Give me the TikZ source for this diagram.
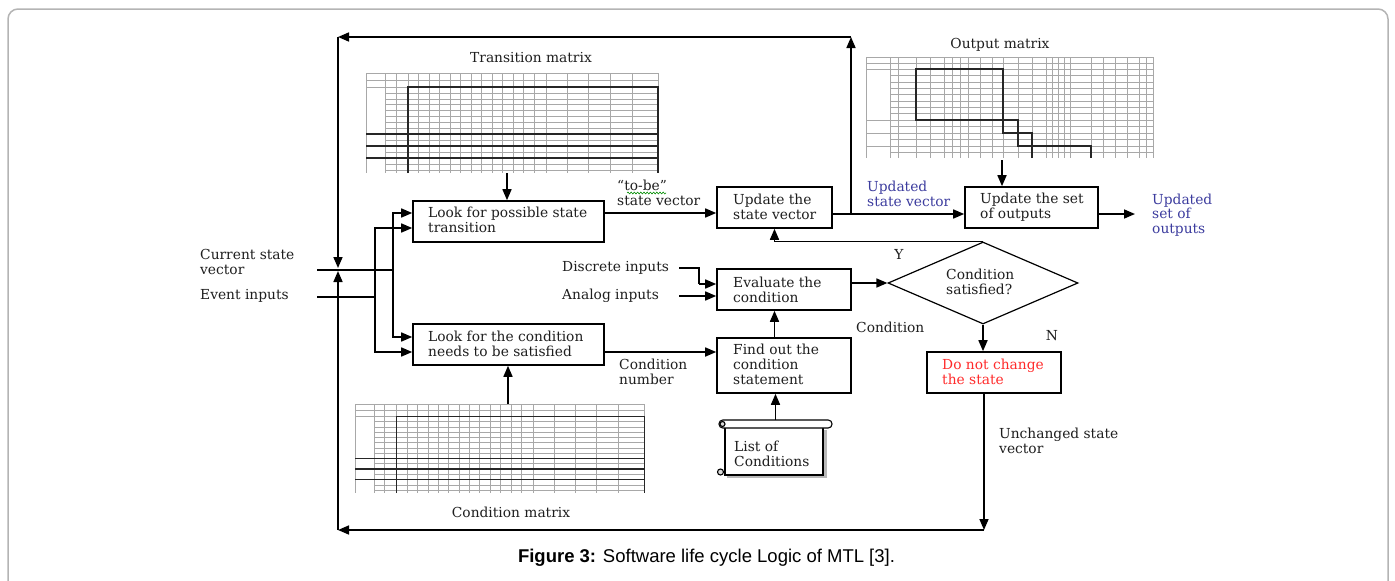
\documentclass[tikz,border=0pt]{standalone}
\usepackage{fontspec}
\setmainfont{DejaVu Serif}
\newfontfamily\capfont{Liberation Sans}
\usetikzlibrary{arrows.meta,shapes.geometric,calc,decorations.pathmorphing}
\definecolor{txtblue}{HTML}{3C3C9E}
\definecolor{txtred}{HTML}{FF2A2A}
\definecolor{txtdark}{HTML}{1E1E1E}
\definecolor{gridgray}{HTML}{A8A8A8}
\definecolor{framegray}{HTML}{B4B4B4}
\newcommand\boxfont{\fontsize{13.8}{14.8}\selectfont}
\newcommand\matgrid{%
  \foreach \xx in {0,19,30,42,52.5,63,73.5,84,94.5,105,115.5,126,136.5,147,157.5,168,180,201,222,244,266,292}
    \draw[gridline] (\xx,0) -- (\xx,100);
  \foreach \yy in {0,7,14,61,73,85}
    \draw[gridline] (0,\yy) -- (292,\yy);
  \foreach \yy in {19.9,25.75,31.6,37.5,43.4,49.25,55.1,67,79,91,97}
    \draw[gridline] (19,\yy) -- (292,\yy);
  \draw[thickline] (42,100) -- (42,14) -- (292,14) -- (292,100);
  \foreach \yy in {61,73,85}
    \draw[thickline] (0,\yy) -- (292,\yy);
}
\begin{document}
\begin{tikzpicture}[x=1pt,y=-1pt,
  gridline/.style={gridgray,line width=0.5pt},
  thickline/.style={black!85,line width=1.1pt},
  ln/.style={line width=1.6pt},
  arr/.style={line width=1.6pt,-{Triangle[length=11pt,width=9pt]}},
  box/.style={draw,line width=1.6pt,rectangle,inner sep=0pt},
  lbl/.style={inner sep=0pt,align=left,font=\boxfont,text=txtdark},
  ttl/.style={inner sep=0pt,font=\boxfont,text=txtdark}]
\useasboundingbox (0,0) rectangle (1395,581);
% outer frame
\draw[framegray,line width=1.5pt,rounded corners=10pt] (8,581) -- (8,9) -- (1388,9) -- (1388,581);

% ---------- tables ----------
\begin{scope}[shift={(366,73)}]
  \matgrid
\end{scope}
\begin{scope}[shift={(355,404)},xscale=0.99,yscale=0.89]
  \matgrid
\end{scope}
% output matrix
\foreach \xx in {866,890,898,916,930,944,952,960,968,980,992,1003,1018,1032,1046,1052,1058,1064,1070,1091,1103,1115,1127,1139,1146,1153}
  \draw[gridline] (\xx,57) -- (\xx,158);
\foreach \yy in {57,63,69,120,133,146}
  \draw[gridline] (866,\yy) -- (1153,\yy);
\foreach \yy in {75.4,81.75,88.1,94.5,100.9,107.25,113.6,126.5,139.5,152}
  \draw[gridline] (890,\yy) -- (1153,\yy);
\draw[thickline] (916,69) rectangle (1003,120);
\draw[thickline] (1003,120) rectangle (1018,133);
\draw[thickline] (1018,133) rectangle (1032,146);
\draw[thickline] (1032,158) -- (1032,146) -- (1091,146) -- (1091,158);

\node[ttl] (ttrans) at (531,58) {Transition matrix};
\node[ttl] (toutm) at (1000,45) {Output matrix};
\node[ttl] (tcondm) at (511,512) {Condition matrix};
\coordinate (ttabS) at (507,173);
\coordinate (otabS) at (1002,160);
\coordinate (ctabN) at (508,404);

% ---------- boxes ----------
\node[box,minimum width=191pt,minimum height=41pt] (b1) at (508.5,221.5) {};
\node[box,minimum width=191pt,minimum height=41pt] (b2) at (508.5,344.5) {};
\node[box,minimum width=115pt,minimum height=41pt] (bu) at (774.5,207.5) {};
\node[box,minimum width=133pt,minimum height=41pt] (bo) at (1031.5,207.5) {};
\node[box,minimum width=134pt,minimum height=41pt] (be) at (784,289.5) {};
\node[box,minimum width=134pt,minimum height=55pt] (bf) at (784,365.5) {};
\node[box,minimum width=134pt,minimum height=41pt] (bd) at (994,372.5) {};
\node[draw,diamond,line width=1.2pt,minimum width=190pt,minimum height=82pt,inner sep=0pt] (dia) at (983,283) {};

\node[lbl,anchor=west] (b1t) at (428,220) {Look for possible state\\transition};
\node[lbl,anchor=west] (b2t) at (428,344) {Look for the condition\\needs to be satisfied};
\node[lbl,anchor=west] (but) at (733,207) {Update the\\state vector};
\node[lbl,anchor=west] (bot) at (980,207) {Update the set\\of outputs};
\node[lbl,anchor=west] (bet) at (733,289.5) {Evaluate the\\condition};
\node[lbl,anchor=west] (bft) at (733,364.5) {Find out the\\condition\\statement};
\node[lbl,anchor=west,text=txtred] (bdt) at (942,371.5) {Do not change\\the state};
\node[lbl,anchor=west] (diat) at (946,281.5) {Condition\\satisfied?};

% scroll
\node[inner sep=0pt,minimum width=113pt,minimum height=55pt] (scroll) at (775.5,447.5) {};
\fill[gray!55] (823,430) rectangle (826.5,477.5);
\fill[gray!55] (727,475) rectangle (826.5,477.5);
\draw[line width=1.1pt,fill=white] (725,427) -- (725,475) -- (823,475) -- (823,427);
\draw[line width=1.1pt,fill=white,rounded corners=3.8pt] (719,420) rectangle (832,428);
\draw[line width=1.1pt,fill=gray!30] (722.5,424) circle (2.5pt);
\draw[line width=1.1pt,fill=gray!30] (720.5,472) circle (3pt);
\node[lbl,anchor=west] (scrollt) at (734,454) {List of\\Conditions};

% ---------- labels ----------
\node[lbl,anchor=west] (lcur) at (200,262) {Current state\\vector};
\node[lbl,anchor=west] (levt) at (200,296) {Event inputs};
\node[lbl,anchor=west] (ltobe) at (617,193) {“to-be”\\state vector};
\draw[green!55!black,line width=0.6pt,decorate,decoration={snake,amplitude=0.9pt,segment length=3.2pt}] (627,193) -- (666,193);
\node[lbl,anchor=west,text=txtblue] (lupsv) at (867,193.5) {Updated\\state vector};
\node[lbl,anchor=west,text=txtblue] (lupso) at (1152,215) {Updated\\set of\\outputs};
\node[lbl,anchor=west] (ldisc) at (562,268) {Discrete inputs};
\node[lbl,anchor=west] (lanal) at (562,296) {Analog inputs};
\node[ttl] (lY) at (899,254) {Y};
\node[ttl] (lN) at (1052,336) {N};
\node[lbl,anchor=west] (lcond) at (856,327) {Condition};
\node[lbl,anchor=west] (lcnum) at (619,371.5) {Condition\\number};
\node[lbl,anchor=west] (lunch) at (999,440.5) {Unchanged state\\vector};

% ---------- coordinates ----------
\coordinate (tl) at (338,37);
\coordinate (tr) at (851,37);
\coordinate (bl) at (338,530);
\coordinate (br) at (984,530);
\coordinate (midA) at (338,268);
\coordinate (midB) at (338,271);
\coordinate (csin) at (317,270);
\coordinate (evin) at (317,297);
\coordinate (v1t) at (393,213);
\coordinate (v1b) at (393,337);
\coordinate (v2t) at (375,228);
\coordinate (v2b) at (375,352);
\coordinate (ytv) at (0,213);
\coordinate (yuo) at (0,214);
\coordinate (ycn) at (0,352);
\coordinate (dinA) at (679,268);
\coordinate (dinB) at (699,268);
\coordinate (dinC) at (699,284);
\coordinate (ainA) at (679,296);
\coordinate (outE) at (1135,214);

% ---------- connectors ----------
% feedback loops
\draw[arr] (tr |- yuo) -- (tr);
\draw[arr] (tr) -- (tl);
\draw[arr] (tl) -- (midA);
\draw[arr] (bd.south -| br) -- (br);
\draw[arr] (br) -- (bl);
\draw[arr] (bl) -- (midB);
% inputs
\draw[ln] (csin) -- (csin -| v1t);
\draw[arr] (csin -| v1t) -- (v1t) -- (b1.west |- v1t);
\draw[arr] (csin -| v1t) -- (v1b) -- (b2.west |- v1b);
\draw[ln] (evin) -- (evin -| v2t);
\draw[arr] (evin -| v2t) -- (v2t) -- (b1.west |- v2t);
\draw[arr] (evin -| v2t) -- (v2b) -- (b2.west |- v2b);
% tables
\draw[arr] (ttabS) -- (ttabS |- b1.north);
\draw[arr] (otabS) -- (otabS |- bo.north);
\draw[arr] (ctabN) -- (ctabN |- b2.south);
% main flow
\draw[arr] (b1.east |- ytv) -- (bu.west |- ytv);
\draw[arr] (bu.east |- yuo) -- (bo.west |- yuo);
\draw[arr] (bo.east |- yuo) -- (outE);
\draw[arr] (b2.east |- ycn) -- (bf.west |- ycn);
\draw[arr] (bf.north -| bu.south) -- (be.south -| bu.south);
\draw[arr] (scroll.north) -- (scroll.north |- bf.south);
\draw[ln] (dinA) -- (dinB) -- (dinC);
\draw[arr] (dinC) -- (be.west |- dinC);
\draw[arr] (ainA) -- (be.west |- ainA);
\draw[arr] (be.east |- dia.west) -- (dia.west);
\draw[arr] (dia.north) -- (dia.north -| bu.south) -- (bu.south);
\draw[arr] (dia.south) -- (dia.south |- bd.north);

% caption
\node[inner sep=0pt,font=\capfont\fontsize{18.5}{22}\selectfont] (cap) at (706.5,558) {\textbf{Figure 3:} Software life cycle Logic of MTL [3].};
\end{tikzpicture}
\end{document}
